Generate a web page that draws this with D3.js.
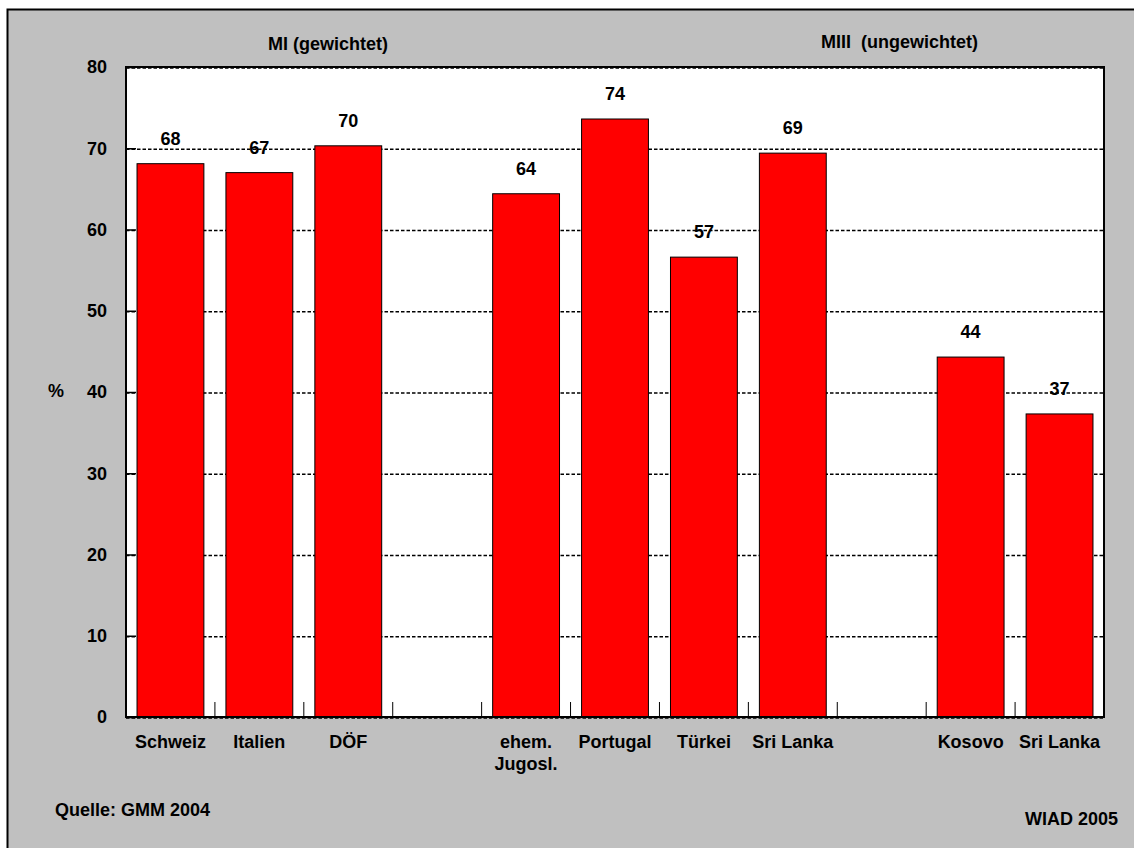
<!DOCTYPE html>
<html>
<head>
<meta charset="utf-8">
<script src="https://cdn.jsdelivr.net/npm/d3@7"></script>
<style>
  html, body { margin: 0; padding: 0; background: #fff; }
  svg { display: block; }
  text { font-family: "Liberation Sans", Arial, sans-serif; font-weight: bold; fill: #000; }
</style>
</head>
<body>
<div id="chart"></div>
<script>
(function () {
  "use strict";

  // ── Data ──────────────────────────────────────────
  // 11 category slots, two of them empty (group separators)
  const categories = ["Schweiz", "Italien", "DÖF", "", "ehem.|Jugosl.", "Portugal", "Türkei", "Sri Lanka", "", "Kosovo", "Sri Lanka"];
  const values = [68.1, 67.0, 70.3, null, 64.4, 73.6, 56.6, 69.4, null, 44.3, 37.3];
  const valueLabels = ["68", "67", "70", "", "64", "74", "57", "69", "", "44", "37"];
  const yTicks = [0, 10, 20, 30, 40, 50, 60, 70, 80];
  const groupTitles = ["MI (gewichtet)", "MIII\u00a0 (ungewichtet)"];

  // ── Layout ────────────────────────────────────────
  const W = 1134, H = 848;
  const PLOT = { left: 126, top: 67, right: 1104, bottom: 717 };
  const FONT = 18;

  const svg = d3.select("#chart").append("svg")
    .attr("width", W).attr("height", H);

  // outer grey frame
  svg.append("rect")
    .attr("x", 7.5).attr("y", 9.5)
    .attr("width", W + 20).attr("height", H + 20)
    .attr("fill", "#c0c0c0")
    .attr("stroke", "#000").attr("stroke-width", 2);

  // plot background
  svg.append("rect")
    .attr("x", PLOT.left).attr("y", PLOT.top)
    .attr("width", PLOT.right - PLOT.left).attr("height", PLOT.bottom - PLOT.top)
    .attr("fill", "#fff");

  // ── Scales ────────────────────────────────────────
  const x = d3.scaleBand()
    .domain(d3.range(categories.length))
    .range([PLOT.left, PLOT.right])
    .paddingInner(0).paddingOuter(0);
  const barW = x.bandwidth() / 1.33;

  const y = d3.scaleLinear().domain([0, 80]).range([PLOT.bottom, PLOT.top]);

  // gridlines
  svg.append("g").selectAll("line")
    .data(yTicks)
    .join("line")
    .attr("x1", PLOT.left).attr("x2", PLOT.right)
    .attr("y1", d => y(d) + 1).attr("y2", d => y(d) + 1)
    .attr("stroke", "#000").attr("stroke-width", 1.5)
    .attr("stroke-dasharray", "3.5,2");

  // bars
  const barData = values.map((v, i) => ({ i, v, label: valueLabels[i] })).filter(d => d.v != null);

  svg.append("g").selectAll("rect")
    .data(barData)
    .join("rect")
    .attr("x", d => x(d.i) + (x.bandwidth() - barW) / 2)
    .attr("y", d => y(d.v))
    .attr("width", barW)
    .attr("height", d => y(0) - y(d.v))
    .attr("fill", "#ff0000")
    .attr("stroke", "#000").attr("stroke-width", 1);

  // value labels
  svg.append("g").selectAll("text")
    .data(barData)
    .join("text")
    .attr("x", d => x(d.i) + x.bandwidth() / 2)
    .attr("y", d => y(d.v) - 19)
    .attr("text-anchor", "middle")
    .style("font-size", FONT + "px")
    .text(d => d.label);

  // category boundary ticks (inside, pointing up)
  svg.append("g").selectAll("line")
    .data(d3.range(1, categories.length))
    .join("line")
    .attr("x1", d => x(d)).attr("x2", d => x(d))
    .attr("y1", PLOT.bottom).attr("y2", PLOT.bottom - 15)
    .attr("stroke", "#000").attr("stroke-width", 1);

  // plot border
  svg.append("rect")
    .attr("x", PLOT.left).attr("y", PLOT.top)
    .attr("width", PLOT.right - PLOT.left).attr("height", PLOT.bottom - PLOT.top)
    .attr("fill", "none")
    .attr("stroke", "#000").attr("stroke-width", 2);

  // y axis
  const gy = svg.append("g")
    .attr("transform", `translate(${PLOT.left},0)`)
    .call(d3.axisLeft(y).tickValues(yTicks).tickSize(-10).tickPadding(19));
  gy.select(".domain").remove();
  gy.selectAll(".tick line").attr("stroke", "#000").attr("stroke-width", 1.5);
  gy.selectAll(".tick text")
    .style("font-size", FONT + "px")
    .style("font-family", "'Liberation Sans', Arial, sans-serif")
    .style("font-weight", "bold")
    .attr("fill", "#000");

  // x category labels
  const xl = svg.append("g").selectAll("text")
    .data(categories.map((c, i) => ({ c, i })).filter(d => d.c))
    .join("text")
    .attr("x", d => x(d.i) + x.bandwidth() / 2)
    .attr("y", 748)
    .attr("text-anchor", "middle")
    .style("font-size", FONT + "px");
  xl.each(function (d) {
    const parts = d.c.split("|");
    const t = d3.select(this);
    parts.forEach((p, k) => {
      t.append("tspan")
        .attr("x", x(d.i) + x.bandwidth() / 2)
        .attr("dy", k === 0 ? 0 : 22)
        .text(p);
    });
  });

  // group titles
  svg.append("text")
    .attr("x", 328).attr("y", 50)
    .attr("text-anchor", "middle")
    .style("font-size", FONT + "px")
    .text(groupTitles[0]);
  svg.append("text")
    .attr("x", 821).attr("y", 48)
    .style("font-size", FONT + "px")
    .text(groupTitles[1]);

  // axis unit
  svg.append("text")
    .attr("x", 48).attr("y", 397)
    .style("font-size", FONT + "px")
    .text("%");

  // footer
  svg.append("text")
    .attr("x", 55).attr("y", 816)
    .style("font-size", FONT + "px")
    .text("Quelle: GMM 2004");
  svg.append("text")
    .attr("x", 1118).attr("y", 825)
    .attr("text-anchor", "end")
    .style("font-size", FONT + "px")
    .text("WIAD 2005");
})();
</script>
</body>
</html>
